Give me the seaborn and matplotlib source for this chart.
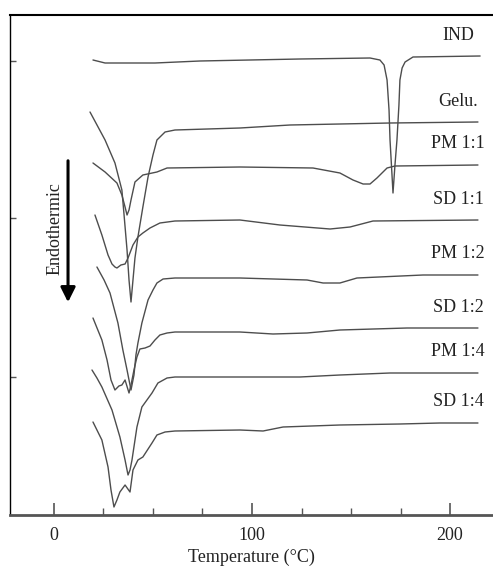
import pandas as pd
import seaborn as sns
import matplotlib.pyplot as plt
from matplotlib.ticker import MultipleLocator

# DSC thermograms, heat flow in arbitrary units (curves offset vertically)
samples = ['IND', 'Gelu.', 'PM 1:1', 'SD 1:1', 'PM 1:2', 'SD 1:2', 'PM 1:4', 'SD 1:4']

ind_t = [19.7, 25.8, 51.0, 73.7, 124.2, 159.6, 164.6, 166.7, 168.2, 169.2, 169.7, 170.7, 171.2,
         172.2, 173.2, 174.2, 174.7, 175.8, 177.3, 181.3, 215.2]
ind_v = [455, 452, 452, 454, 456, 457, 455, 450, 435, 405, 375, 340, 322,
         350, 375, 410, 435, 447, 453, 458, 459]

gelu_t = [18.2, 25.8, 30.8, 34.3, 35.4, 36.9, 37.9, 38.9, 39.9, 40.9, 42.4, 44.9, 47.5,
          50.0, 52.0, 56.1, 61.1, 93.9, 119.2, 169.7, 214.1]
gelu_v = [403, 375, 352, 325, 300, 265, 235, 213, 235, 257, 278, 308, 338,
          360, 375, 383, 385, 387, 390, 392, 393]

pm11_t = [19.7, 25.8, 31.8, 34.3, 35.9, 36.9, 37.9, 38.9, 40.9, 44.9, 52.0, 57.1, 93.9,
          130.8, 144.4, 151.0, 156.1, 159.6, 163.1, 168.2, 172.2, 214.1]
pm11_v = [352, 343, 332, 320, 308, 300, 305, 315, 333, 340, 343, 347, 348,
          347, 342, 335, 331, 331, 337, 347, 349, 350]

sd11_t = [20.7, 24.2, 27.3, 29.3, 30.8, 31.8, 33.8, 35.9, 37.4, 39.9, 42.4, 44.9, 48.5,
          53.5, 61.1, 93.9, 114.1, 139.4, 149.5, 161.1, 214.1]
sd11_v = [300, 280, 260, 251, 248, 247, 250, 251, 257, 270, 278, 282, 287,
          292, 294, 295, 290, 286, 288, 294, 295]

pm12_t = [21.7, 25.3, 28.3, 32.3, 34.8, 36.9, 38.9, 40.4, 41.4, 42.4, 44.4, 47.5, 50.0,
          52.0, 55.1, 61.1, 93.9, 127.8, 135.9, 144.4, 153.0, 186.4, 214.1]
pm12_v = [248, 235, 222, 192, 165, 145, 125, 140, 160, 172, 192, 215, 225,
          232, 236, 237, 237, 235, 232, 232, 237, 240, 240]

sd12_t = [19.7, 24.2, 26.8, 28.8, 30.8, 32.8, 34.3, 35.9, 37.9, 38.9, 40.4, 41.9, 43.4,
          46.0, 48.5, 51.0, 53.5, 57.1, 61.1, 93.9, 110.6, 127.8, 144.4, 178.3, 214.1]
sd12_v = [197, 175, 155, 135, 125, 129, 130, 135, 122, 130, 145, 158, 166,
          167, 169, 175, 180, 182, 183, 183, 181, 182, 185, 187, 187]

pm14_t = [19.2, 21.7, 24.2, 29.3, 33.3, 35.9, 36.9, 37.4, 38.4, 39.4, 41.9, 44.4, 49.5,
          52.5, 57.1, 61.1, 93.9, 124.2, 144.4, 169.7, 214.1]
pm14_v = [145, 137, 128, 105, 78, 55, 45, 40, 45, 55, 88, 108, 122,
          132, 137, 138, 138, 138, 140, 142, 142]

sd14_t = [19.7, 24.2, 27.3, 28.8, 30.3, 31.8, 33.3, 35.9, 38.4, 39.9, 42.4, 44.9, 49.5,
          52.0, 56.1, 61.1, 93.9, 105.6, 115.7, 144.4, 174.7, 194.9, 214.1]
sd14_v = [93, 75, 48, 25, 8, 15, 23, 30, 23, 45, 55, 58, 72,
          80, 83, 84, 85, 84, 88, 90, 91, 92, 92]

curves = [(ind_t, ind_v), (gelu_t, gelu_v), (pm11_t, pm11_v), (sd11_t, sd11_v),
          (pm12_t, pm12_v), (sd12_t, sd12_v), (pm14_t, pm14_v), (sd14_t, sd14_v)]

rows = []
for name, (ts, vs) in zip(samples, curves):
    for t, v in zip(ts, vs):
        rows.append({'sample': name, 'T': t, 'v': v})
df = pd.DataFrame(rows)

sns.set_style('ticks')
plt.rcParams['font.family'] = ['Liberation Serif', 'DejaVu Serif']

fig = plt.figure(figsize=(4.93, 5.72), dpi=100)
ax = fig.add_axes([10 / 493, 57 / 572, 483 / 493, 500 / 572])

sns.lineplot(data=df, x='T', y='v', hue='sample', palette=['#4d4d4d'] * len(samples),
             estimator=None, sort=False, legend=False, lw=1.0, ax=ax)

ax.set_xlim(-22.2, 221.7)
ax.set_ylim(0, 500)

# curve labels just above the right end of each trace
for name, (ts, vs) in zip(samples, curves):
    ax.annotate(name, xy=(204, vs[-1]), xytext=(0, 9), textcoords='offset points',
                ha='center', va='bottom', fontsize=13, color='#222222')

# endothermic direction marker
ax.annotate('', xy=(7.1, 210), xytext=(7.1, 357),
            arrowprops=dict(arrowstyle='-|>', lw=2.2, color='black', mutation_scale=22))
ax.text(0.5, 286, 'Endothermic', rotation=90, ha='center', va='center',
        fontsize=13, color='#222222')

ax.set_xticks([0, 100, 200])
ax.set_xticklabels(['0', '100', '200'], fontsize=13, color='#222222')
ax.xaxis.set_minor_locator(MultipleLocator(25))
ax.set_yticks([138, 297, 454])
ax.set_yticklabels([])
ax.tick_params(axis='x', which='major', direction='in', length=9, width=1.2,
               color='#555555', pad=9)
ax.tick_params(axis='x', which='minor', direction='in', length=5, width=1.0, color='#555555')
ax.tick_params(axis='y', direction='in', length=4, width=1.0, color='#555555')

ax.set_xlabel('Temperature (°C)', fontsize=13, color='#222222', labelpad=3)
ax.set_ylabel('')

ax.spines['right'].set_visible(False)
ax.spines['top'].set_linewidth(1.5)
ax.spines['left'].set_linewidth(1.0)
ax.spines['bottom'].set_linewidth(2.0)
ax.spines['bottom'].set_color('#555555')
for side in ['top', 'left']:
    ax.spines[side].set_color('black')

fig.savefig('out.png', dpi=100)
